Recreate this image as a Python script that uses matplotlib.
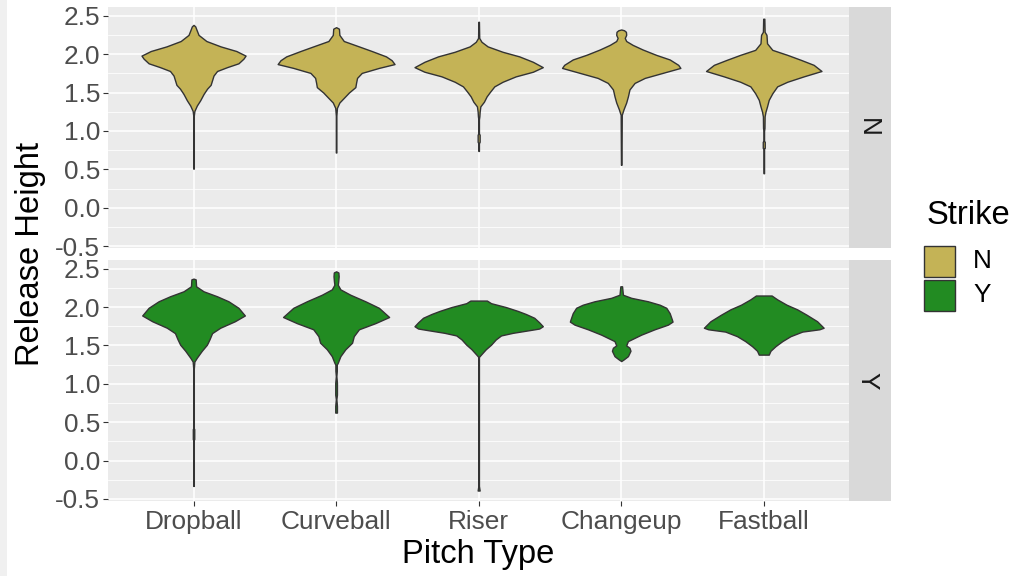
import matplotlib
matplotlib.use("Agg")
import matplotlib.pyplot as plt
from matplotlib.patches import Rectangle

plt.rcParams["font.family"] = ["Liberation Sans", "DejaVu Sans"]

# ---- data -----------------------------------------------------------------
pitch_types = ["Dropball", "Curveball", "Riser", "Changeup", "Fastball"]
strike_levels = ["N", "Y"]
strike_colors = {"N": "#C4B356", "Y": "#228B22"}
y_breaks = [-0.5, 0.0, 0.5, 1.0, 1.5, 2.0, 2.5]

# Violin outlines: release heights (top to bottom) and half-widths of the density
dropball_n_height = [2.38, 2.36, 2.33, 2.25, 2.17, 2.10, 2.04, 1.98, 1.94, 1.88, 1.83,
                     1.78, 1.72, 1.66, 1.60, 1.55, 1.48, 1.40, 1.33, 1.26, 1.20, 0.51]
dropball_n_width = [0.0, 0.012, 0.018, 0.035, 0.09, 0.19, 0.30, 0.365, 0.35, 0.315, 0.235,
                    0.165, 0.14, 0.13, 0.12, 0.095, 0.07, 0.047, 0.023, 0.006, 0.002, 0.002]

curveball_n_height = [2.35, 2.33, 2.25, 2.17, 2.10, 2.04, 1.97, 1.92, 1.87, 1.82, 1.755,
                      1.69, 1.625, 1.57, 1.50, 1.43, 1.37, 1.30, 1.20, 0.72]
curveball_n_width = [0.0, 0.02, 0.023, 0.054, 0.16, 0.25, 0.35, 0.39, 0.41, 0.30, 0.18,
                     0.147, 0.14, 0.135, 0.09, 0.054, 0.023, 0.006, 0.002, 0.002]

riser_n_height = [2.42, 2.21, 2.16, 2.10, 2.03, 1.97, 1.90, 1.83, 1.77, 1.71, 1.64, 1.58,
                  1.51, 1.45, 1.38, 1.32, 1.25, 1.19, 1.15, 0.97, 0.95, 0.86, 0.84, 0.74]
riser_n_width = [0.002, 0.004, 0.02, 0.063, 0.168, 0.285, 0.38, 0.45, 0.38, 0.26, 0.168, 0.11,
                 0.08, 0.056, 0.037, 0.012, 0.007, 0.005, 0.002, 0.002, 0.007, 0.007, 0.002, 0.002]

changeup_n_height = [2.32, 2.31, 2.29, 2.25, 2.21, 2.17, 2.12, 2.06, 1.99, 1.93, 1.86, 1.82,
                     1.755, 1.69, 1.625, 1.54, 1.45, 1.37, 1.28, 1.21, 0.56]
changeup_n_width = [0.0, 0.02, 0.033, 0.035, 0.025, 0.035, 0.08, 0.15, 0.245, 0.34, 0.40, 0.415,
                    0.29, 0.165, 0.094, 0.058, 0.047, 0.035, 0.016, 0.004, 0.002]

fastball_n_height = [2.46, 2.29, 2.25, 2.14, 2.055, 1.99, 1.925, 1.86, 1.78, 1.71, 1.64, 1.58,
                     1.49, 1.405, 1.32, 1.25, 1.19, 1.04, 1.0, 0.87, 0.86, 0.78, 0.77, 0.45]
fastball_n_width = [0.004, 0.006, 0.019, 0.023, 0.06, 0.165, 0.26, 0.35, 0.405, 0.28, 0.165, 0.094,
                    0.06, 0.035, 0.023, 0.012, 0.006, 0.005, 0.002, 0.002, 0.007, 0.007, 0.002, 0.002]

dropball_y_height = [2.37, 2.36, 2.27, 2.205, 2.14, 2.075, 1.99, 1.89, 1.815, 1.73, 1.66, 1.58,
                     1.51, 1.43, 1.34, 1.29, 1.20, 0.42, 0.41, 0.28, 0.27, -0.33]
dropball_y_width = [0.0, 0.015, 0.018, 0.07, 0.165, 0.245, 0.315, 0.36, 0.29, 0.187, 0.13, 0.112,
                    0.094, 0.058, 0.023, 0.006, 0.002, 0.002, 0.005, 0.005, 0.002, 0.002]

curveball_y_height = [2.465, 2.45, 2.40, 2.335, 2.29, 2.23, 2.16, 2.075, 1.99, 1.87, 1.79, 1.71,
                      1.62, 1.535, 1.45, 1.36, 1.275, 1.25, 1.17, 1.10, 1.01, 0.86, 0.80, 0.71, 0.625]
curveball_y_width = [0.0, 0.016, 0.018, 0.015, 0.012, 0.03, 0.10, 0.205, 0.30, 0.372, 0.275, 0.16,
                     0.124, 0.112, 0.065, 0.03, 0.012, 0.005, 0.005, 0.002, 0.006, 0.006, 0.002, 0.006, 0.006]

riser_y_height = [2.084, 2.05, 2.00, 1.95, 1.91, 1.86, 1.80, 1.75, 1.72, 1.70, 1.664, 1.63,
                  1.578, 1.51, 1.45, 1.38, 1.35, -0.33, -0.39]
riser_y_width = [0.058, 0.087, 0.19, 0.273, 0.33, 0.39, 0.425, 0.45, 0.425, 0.36, 0.24, 0.157,
                 0.12, 0.087, 0.05, 0.016, 0.002, 0.002, 0.007]

changeup_y_height = [2.27, 2.16, 2.12, 2.075, 2.03, 1.99, 1.92, 1.84, 1.81, 1.77, 1.71, 1.64,
                     1.556, 1.50, 1.47, 1.43, 1.36, 1.32, 1.296]
changeup_y_width = [0.006, 0.012, 0.07, 0.187, 0.27, 0.316, 0.34, 0.355, 0.36, 0.327, 0.234, 0.14,
                    0.047, 0.035, 0.058, 0.065, 0.047, 0.019, 0.0]

fastball_y_height = [2.15, 2.10, 2.03, 1.97, 1.90, 1.815, 1.73, 1.71, 1.68, 1.62, 1.556, 1.49,
                     1.43, 1.38]
fastball_y_width = [0.055, 0.094, 0.16, 0.234, 0.30, 0.374, 0.42, 0.39, 0.27, 0.187, 0.13, 0.082,
                    0.047, 0.035]

violins = {
    "N": [(dropball_n_height, dropball_n_width), (curveball_n_height, curveball_n_width),
          (riser_n_height, riser_n_width), (changeup_n_height, changeup_n_width),
          (fastball_n_height, fastball_n_width)],
    "Y": [(dropball_y_height, dropball_y_width), (curveball_y_height, curveball_y_width),
          (riser_y_height, riser_y_width), (changeup_y_height, changeup_y_width),
          (fastball_y_height, fastball_y_width)],
}

# ---- figure layout --------------------------------------------------------
W, H = 1028, 576
fig = plt.figure(figsize=(W / 100, H / 100), dpi=100)
fig.patch.set_facecolor("white")
fig.add_artist(Rectangle((0, 0), 7 / W, 1, transform=fig.transFigure,
                         facecolor="#f0f0f0", edgecolor="none", zorder=-5))

def fx(px):
    return px / W

def fy(py):
    return 1 - py / H

panel_left, panel_right, strip_right = 108, 849.3, 890.7
panels = {"N": (7, 248), "Y": (260, 500.7)}

axis_text = 18.9
title_text = 23.6
outline = "#333333"
ylim = (-0.5225, 2.6125)
minor_breaks = [-0.25, 0.25, 0.75, 1.25, 1.75, 2.25]
positions = list(range(1, len(pitch_types) + 1))

for level in strike_levels:
    top, bottom = panels[level]
    ax = fig.add_axes([fx(panel_left), fy(bottom), fx(panel_right - panel_left),
                       (bottom - top) / H])
    ax.set_facecolor("#ebebeb")
    for s in ax.spines.values():
        s.set_visible(False)
    ax.set_xlim(0.4, len(pitch_types) + 0.6)
    ax.set_ylim(*ylim)

    for yb in y_breaks:
        ax.axhline(yb, color="white", lw=1.1, zorder=0)
    for ym in minor_breaks:
        ax.axhline(ym, color="white", lw=0.55, zorder=0)
    for xp in positions:
        ax.axvline(xp, color="white", lw=1.1, zorder=0)

    for xp, (hts, wds) in zip(positions, violins[level]):
        left = [xp - w for w in wds]
        right = [xp + w for w in wds]
        ax.fill_betweenx(hts, left, right, facecolor=strike_colors[level],
                         edgecolor=outline, linewidth=1.0, zorder=3)

    ax.set_yticks(y_breaks)
    ax.set_yticklabels([f"{v:.1f}" for v in y_breaks], fontsize=axis_text, color="#4d4d4d")
    ax.tick_params(axis="y", length=3.6, width=0.8, color=outline, pad=2)
    ax.set_xticks(positions)
    if level == strike_levels[-1]:
        ax.set_xticklabels(pitch_types, fontsize=axis_text, color="#4d4d4d")
        ax.tick_params(axis="x", length=3.6, width=0.8, color=outline, pad=3)
    else:
        ax.set_xticklabels([])
        ax.tick_params(axis="x", length=0)

    strip = fig.add_axes([fx(panel_right), fy(bottom), fx(strip_right - panel_right),
                          (bottom - top) / H])
    strip.set_facecolor("#d9d9d9")
    strip.set_xticks([])
    strip.set_yticks([])
    for s in strip.spines.values():
        s.set_visible(False)
    strip.text(0.45, 0.5, level, rotation=-90, ha="center", va="center",
               fontsize=axis_text, color="#1a1a1a", transform=strip.transAxes)

fig.text(fx(31), fy(254), "Release Height", rotation=90, ha="center", va="center",
         fontsize=title_text, color="black")
fig.text(fx((panel_left + panel_right) / 2), fy(554), "Pitch Type", ha="center",
         va="center", fontsize=title_text, color="black")

# legend: title, filled keys and labels
key_left, key_size, key_gap, key_top = 924, 31, 2.5, 246
fig.text(fx(927), fy(216), "Strike", ha="left", va="center",
         fontsize=title_text, color="black")
for i, level in enumerate(strike_levels):
    y_top = key_top + i * (key_size + key_gap)
    fig.add_artist(Rectangle((fx(key_left), fy(y_top + key_size)), fx(key_size),
                             key_size / H, transform=fig.transFigure,
                             facecolor=strike_colors[level], edgecolor=outline,
                             linewidth=1.0))
    fig.text(fx(973), fy(y_top + key_size / 2), level, ha="left", va="center",
             fontsize=axis_text, color="black")

fig.savefig("out.png", dpi=100, facecolor="white")
